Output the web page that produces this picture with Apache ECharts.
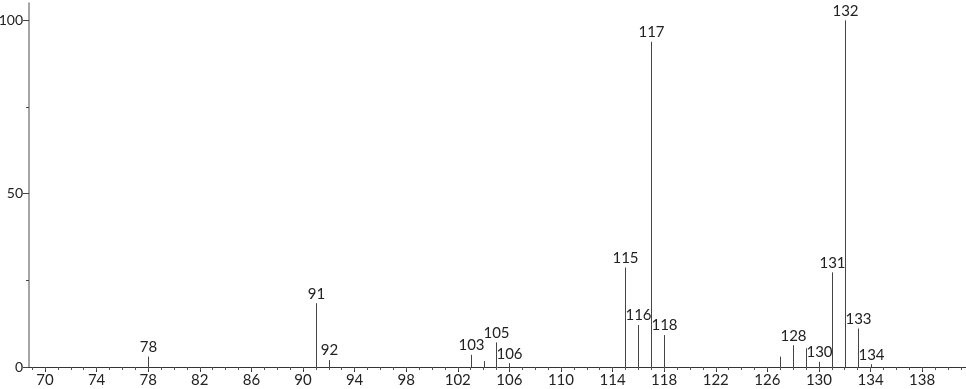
<!DOCTYPE html>
<html>
<head>
<meta charset="utf-8">
<script src="https://cdn.jsdelivr.net/npm/echarts@6/dist/echarts.min.js"></script>
<style>
html,body{margin:0;padding:0;background:#fff;}
#chart{width:966px;height:389px;}
</style>
</head>
<body>
<div id="chart"></div>
<script>
// m/z values of the peaks
var mz = [78, 91, 92, 103, 104, 105, 106, 115, 116, 117, 118, 127, 128, 129, 130, 131, 132, 133, 134];
// relative intensities (%)
var intensity = [3.0, 18.4, 2.0, 3.5, 1.7, 7.1, 1.1, 28.7, 12.1, 93.8, 9.2, 3.0, 6.3, 5.4, 1.5, 27.3, 100, 11.1, 0.8];
// peak labels ('' = unlabeled)
var peakLabels = ['78', '91', '92', '103', '', '105', '106', '115', '116', '117', '118', '', '128', '', '130', '131', '132', '133', '134'];
// axis tick labels
var xTickLabels = [70, 74, 78, 82, 86, 90, 94, 98, 102, 106, 110, 114, 118, 122, 126, 130, 134, 138];
var xMinorTicks = [69,70,71,72,73,74,75,76,77,78,79,80,81,82,83,84,85,86,87,88,89,90,91,92,93,94,95,96,97,98,99,100,101,102,103,104,105,106,107,108,109,110,111,112,113,114,115,116,117,118,119,120,121,122,123,124,125,126,127,128,129,130,131,132,133,134,135,136,137,138,139,140,141];
var yTickLabels = [0, 50, 100];
var yMinorTicks = [25, 75];

var FONT = 'Lato, "DejaVu Sans", sans-serif';
var chart = echarts.init(document.getElementById('chart'));
var data = mz.map(function (m, i) { return [m, intensity[i]]; });

chart.setOption({
  animation: false,
  grid: { left: 29, right: 0, top: 3, bottom: 22, containLabel: false, outerBoundsMode: 'none' },
  xAxis: [{
    type: 'value', min: 68.76, max: 141.4, position: 'bottom',
    splitLine: { show: false },
    axisLine: { lineStyle: { color: '#333', width: 1 } },
    axisTick: { customValues: xTickLabels, length: 5, lineStyle: { color: '#333' } },
    axisLabel: { customValues: xTickLabels, color: '#222', fontSize: 15, fontFamily: FONT, margin: 6, showMinLabel: true, showMaxLabel: true }
  }, {
    type: 'value', min: 68.76, max: 141.4, position: 'bottom', offset: 0,
    splitLine: { show: false },
    axisLine: { show: false },
    axisTick: { customValues: xMinorTicks, length: 3, lineStyle: { color: '#555' } },
    axisLabel: { show: false }
  }],
  yAxis: [{
    type: 'value', min: 0, max: 105, position: 'left',
    splitLine: { show: false },
    axisLine: { show: true, lineStyle: { color: '#888', width: 1.5 } },
    axisTick: { show: true, customValues: yTickLabels, length: 6, lineStyle: { color: '#444' } },
    axisLabel: { customValues: yTickLabels, color: '#222', fontSize: 14, fontFamily: FONT, margin: 6 }
  }, {
    type: 'value', min: 0, max: 105, position: 'left', offset: 0,
    splitLine: { show: false },
    axisLine: { show: false },
    axisTick: { show: true, customValues: yMinorTicks, length: 3, lineStyle: { color: '#444' } },
    axisLabel: { show: false }
  }],
  series: [{
    type: 'custom',
    xAxisIndex: 0, yAxisIndex: 0,
    clip: false,
    data: data,
    renderItem: function (params, api) {
      var x = api.value(0), y = api.value(1);
      var p0 = api.coord([x, 0]);
      var p1 = api.coord([x, y]);
      var px = Math.round(p0[0]) + 0.5;
      var children = [{
        type: 'line',
        shape: { x1: px, y1: p0[1], x2: px, y2: p1[1] },
        style: { stroke: '#444', lineWidth: 1 }
      }];
      var lbl = peakLabels[params.dataIndex];
      if (lbl) {
        children.push({
          type: 'text',
          x: px, y: p1[1] - 2,
          style: { text: lbl, textAlign: 'center', textVerticalAlign: 'bottom', fontSize: 15, fontFamily: FONT, fill: '#222' }
        });
      }
      return { type: 'group', children: children };
    }
  }]
});
</script>
</body>
</html>
